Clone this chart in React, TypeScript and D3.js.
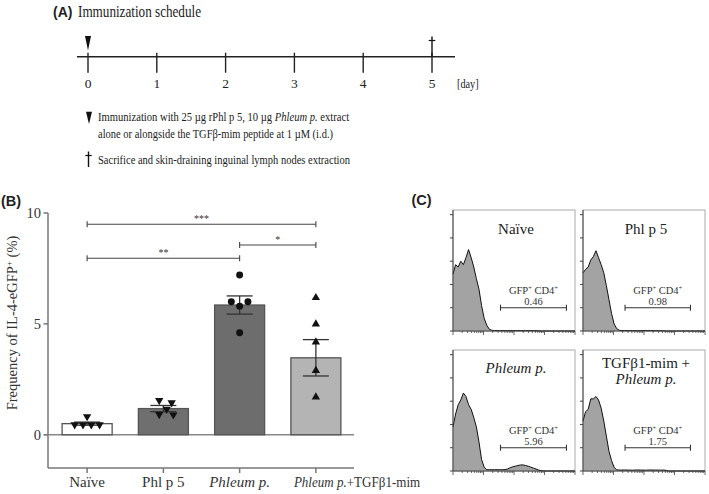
import React from "react";
import * as d3 from "d3";

// ---------- Panel A data ----------
const days = [0, 1, 2, 3, 4, 5];
const immunizationDay = 0;
const sacrificeDay = 5;

// ---------- Panel B data ----------
const groups = ["Naïve", "Phl p 5", "Phleum p.", "Phleum p.+TGFβ1-mim"];
const means = [0.5, 1.18, 5.85, 3.47];
const sems = [0.07, 0.14, 0.41, 0.82];
const groupPoints = [
  [0.82, 0.45, 0.45, 0.45, 0.45],
  [1.55, 1.45, 1.15, 0.92, 0.9],
  [7.2, 6.0, 6.0, 5.8, 4.6],
  [6.18, 4.99, 4.18, 2.89, 1.7],
];
const pointSlots = [
  [0, -1.5, -0.5, 0.5, 1.5],
  [-0.5, 1, 0.4, -0.5, 1.2],
  [0, -1, 1, 0, 0],
  [0, 0, 0, 0, 0],
];
const markerKinds = ["down", "down", "circle", "up"];
const barFills = ["#ffffff", "#6f6f6f", "#6d6d6d", "#b4b4b4"];
const yTicks = [0, 5, 10];
const sigFrom = [0, 2, 0];
const sigTo = [3, 3, 2];
const sigY = [9.49, 8.56, 7.96];
const sigLabels = ["***", "*", "**"];

// ---------- Panel C data (histogram counts, 48 log-fluorescence bins) ----------
const histNaive = [49, 57, 55, 60, 57, 63, 70, 63, 55, 45, 36, 22, 11, 5, 1.5, 0.6, 0.4, 0.4, 0.3, 0.4, 0.3, 0.4, 0.3, 0.3, 0.4, 0.3, 0.4, 0.3, 0.3, 0.3, 0.4, 0.3, 0.3, 0.2, 0, 0, 0, 0, 0, 0, 0, 0, 0, 0, 0, 0, 0, 0];
const histPhl = [50, 53, 55, 61, 64, 69, 63, 57, 50, 39, 27, 15, 6, 2, 0.6, 0.4, 0.4, 0.3, 0.4, 0.3, 0.4, 0.3, 0.3, 0.4, 0.5, 0.3, 0.4, 0.3, 0.3, 0.3, 0.3, 0.2, 0, 0, 0, 0, 0, 0, 0, 0, 0, 0, 0, 0, 0, 0, 0, 0];
const histPhleum = [38, 49, 57, 61, 67, 64, 57, 53, 46, 38, 25, 10, 3.3, 1.1, 1.1, 1.1, 1.1, 1.1, 1.1, 1.1, 1.2, 1.7, 2.8, 3.6, 4.1, 4.7, 5.2, 5.2, 4.7, 4.1, 3.3, 2.5, 1.7, 0.8, 0.3, 0, 0, 0, 0, 0, 0, 0, 0, 0, 0, 0, 0, 0];
const histTgf = [43, 51, 53, 62, 62, 64, 61, 54, 43, 30, 17, 9, 3, 1, 0.8, 0.8, 0.9, 0.8, 0.8, 0.7, 0.8, 0.9, 0.8, 0.8, 0.7, 0.8, 0.9, 0.8, 0.8, 0.8, 0.7, 0.8, 0.6, 0, 0, 0, 0, 0, 0, 0, 0, 0, 0, 0, 0, 0, 0, 0];
const histograms = [histNaive, histPhl, histPhleum, histTgf];
const gateValues = ["0.46", "0.98", "5.96", "1.75"];
const gateLo = [18.3, 16.2, 18.3, 16.2];
const gateHi = [43.7, 41.4, 43.7, 41.4];
const countTicks = [0, 20, 40, 60, 80, 100];

const SERIF = "'Liberation Serif', 'Times New Roman', serif";
const SANS = "'Liberation Sans', Arial, sans-serif";

export default function App() {
  const W = 709, H = 494;

  // Panel A
  const xDay = d3.scaleLinear().domain([0, 5]).range([88, 432]);
  const lineY = 56.7;

  // Panel B
  const y = d3.scaleLinear().domain([-1.5, 10]).range([468, 213]);
  const x = d3.scaleBand<string>().domain(groups).range([49, 354]).paddingInner(0.344).paddingOuter(0.172);
  const cx = (i: number) => (x(groups[i]) as number) + x.bandwidth() / 2;
  const slot = 8.3;
  const sym = (kind: string) => {
    if (kind === "circle") return d3.symbol(d3.symbolCircle, 38)() as string;
    return d3.symbol(d3.symbolTriangle, 30)() as string;
  };

  // Panel C
  const colX = [453, 583];
  const rowY = [210, 350];
  const cellW = 122, cellH = 121;

  return (
    <svg width={W} height={H} style={{ position: "absolute", left: 0, top: 0, background: "#fff" }} fontFamily={SERIF}>
      {/* ================= Panel A ================= */}
      <text x={53} y={16.5} fontFamily={SANS} fontWeight="bold" fontSize={14} fill="#222">(A)</text>
      <text x={78} y={16.5} fontSize={16.5} fill="#222" textLength={123} lengthAdjust="spacingAndGlyphs">Immunization schedule</text>
      <line x1={77} x2={455} y1={lineY} y2={lineY} stroke="#222" strokeWidth={1.6} />
      {days.map((d) => (
        <g key={d}>
          <line x1={xDay(d)} x2={xDay(d)} y1={lineY - 4} y2={lineY + 16} stroke="#222" strokeWidth={1.4} />
          <text x={xDay(d)} y={88} textAnchor="middle" fontSize={13.5} fill="#222">{d}</text>
        </g>
      ))}
      <text x={457} y={88} fontSize={13.5} fill="#222" textLength={21.6} lengthAdjust="spacingAndGlyphs">[day]</text>
      <path d={`M${xDay(immunizationDay) - 3},36 L${xDay(immunizationDay) + 3},36 L${xDay(immunizationDay)},50.5 Z`} fill="#111" />
      <line x1={xDay(sacrificeDay)} x2={xDay(sacrificeDay)} y1={36.5} y2={lineY} stroke="#111" strokeWidth={1.4} />
      <line x1={xDay(sacrificeDay) - 3.3} x2={xDay(sacrificeDay) + 3.3} y1={40.5} y2={40.5} stroke="#111" strokeWidth={1.2} />
      <path d="M86,111.7 L92,111.7 L89,124 Z" fill="#111" />
      <g transform="translate(98,120.5) scale(0.815,1)">
        <text x={0} y={0} fontSize={13} fill="#222">
          Immunization with 25 µg rPhl p 5, 10 µg <tspan fontStyle="italic">Phleum p.</tspan> extract
        </text>
      </g>
      <text x={98} y={138} fontSize={13} fill="#222" textLength={235} lengthAdjust="spacingAndGlyphs">
        alone or alongside the TGFβ-mim peptide at 1 µM (i.d.)
      </text>
      <line x1={88.5} x2={88.5} y1={151.5} y2={167} stroke="#111" strokeWidth={1.4} />
      <line x1={85.3} x2={91.7} y1={155.5} y2={155.5} stroke="#111" strokeWidth={1.2} />
      <text x={98} y={164} fontSize={13} fill="#222" textLength={252} lengthAdjust="spacingAndGlyphs">
        Sacrifice and skin-draining inguinal lymph nodes extraction
      </text>

      {/* ================= Panel B ================= */}
      <text x={1} y={206} fontFamily={SANS} fontWeight="bold" fontSize={14.5} fill="#222">(B)</text>
      <text transform={`translate(17,323) rotate(-90)`} textAnchor="middle" fontSize={14.5} fill="#333">
        <tspan>Frequency of IL-4-eGFP</tspan>
        <tspan dy={-5} fontSize={9}>+</tspan>
        <tspan dy={5}> (%)</tspan>
      </text>
      <line x1={48} x2={48} y1={y(10)} y2={y(-1.5)} stroke="#777" strokeWidth={1.5} />
      <line x1={48} x2={354} y1={y(-1.5)} y2={y(-1.5)} stroke="#777" strokeWidth={1.5} />
      <line x1={44} x2={354} y1={y(0)} y2={y(0)} stroke="#888" strokeWidth={1.5} />
      {yTicks.map((t) => (
        <g key={t}>
          <line x1={43.5} x2={48} y1={y(t)} y2={y(t)} stroke="#777" strokeWidth={1.5} />
          <text x={41} y={y(t) + 5} textAnchor="end" fontSize={14.5} fill="#333">{t}</text>
        </g>
      ))}
      {groups.map((g, i) => (
        <line key={g} x1={cx(i)} x2={cx(i)} y1={y(-1.5)} y2={y(-1.5) + 5} stroke="#777" strokeWidth={1.5} />
      ))}
      {groups.map((g, i) => (
        <rect key={g} x={x(g)} y={y(means[i])} width={x.bandwidth()} height={y(0) - y(means[i])} fill={barFills[i]} stroke="#555" strokeWidth={1.3} />
      ))}
      {groups.map((g, i) => (
        <g key={g} stroke="#333" strokeWidth={1.3}>
          <line x1={cx(i)} x2={cx(i)} y1={y(means[i] + sems[i])} y2={y(means[i] - sems[i])} />
          <line x1={cx(i) - 13} x2={cx(i) + 13} y1={y(means[i] + sems[i])} y2={y(means[i] + sems[i])} />
          <line x1={cx(i) - 13} x2={cx(i) + 13} y1={y(means[i] - sems[i])} y2={y(means[i] - sems[i])} />
        </g>
      ))}
      {groupPoints.map((pts, i) =>
        pts.map((v, j) => (
          <path
            key={`${i}-${j}`}
            d={sym(markerKinds[i])}
            transform={`translate(${cx(i) + pointSlots[i][j] * slot},${y(v)})${markerKinds[i] === "down" ? " rotate(180)" : ""}`}
            fill="#111"
          />
        ))
      )}
      <text x={cx(0)} y={487} textAnchor="middle" fontSize={15} fill="#333">{groups[0]}</text>
      <text x={cx(1)} y={487} textAnchor="middle" fontSize={15} fill="#333">{groups[1]}</text>
      <text x={cx(2)} y={487} textAnchor="middle" fontSize={15} fill="#333" fontStyle="italic">{groups[2]}</text>
      <g transform={`translate(${cx(3) - 22},487) scale(0.87,1)`}>
        <text x={0} y={0} fontSize={15} fill="#333">
          <tspan fontStyle="italic">Phleum p.</tspan>+TGFβ1-mim
        </text>
      </g>
      {sigLabels.map((lab, k) => {
        const x1 = cx(sigFrom[k]), x2 = cx(sigTo[k]), yy = y(sigY[k]);
        return (
          <g key={k}>
            <line x1={x1} x2={x2} y1={yy} y2={yy} stroke="#444" strokeWidth={1.1} />
            <line x1={x1} x2={x1} y1={yy - 3} y2={yy + 3} stroke="#444" strokeWidth={1.1} />
            <line x1={x2} x2={x2} y1={yy - 3} y2={yy + 3} stroke="#444" strokeWidth={1.1} />
            <text x={(x1 + x2) / 2} y={yy - 2} textAnchor="middle" fontSize={10} fill="#333">{lab}</text>
          </g>
        );
      })}

      {/* ================= Panel C ================= */}
      <text x={411.5} y={205} fontFamily={SANS} fontWeight="bold" fontSize={14.5} fill="#222">(C)</text>
      {histograms.map((counts, p) => {
        const col = p % 2, row = Math.floor(p / 2);
        const left = colX[col], top = rowY[row];
        const bottom = top + cellH, right = left + cellW;
        const hx = d3.scaleLinear().domain([0, counts.length - 1]).range([left, right]);
        const hy = d3.scaleLinear().domain([0, 104]).range([bottom, top]);
        const logX = d3.scaleLog().domain([1, 1e4]).range([left, right]);
        const area = d3.area<number>().x((_, i) => hx(i)).y0(bottom).y1((d) => hy(d));
        const line = d3.line<number>().x((_, i) => hx(i)).y((d) => hy(d));
        const gx1 = hx(gateLo[p]), gx2 = hx(gateHi[p]), gy = hy(20);
        const gc = (gx1 + gx2) / 2;
        const tc = (left + right) / 2 + 2;
        return (
          <g key={p}>
            <rect x={left} y={top} width={cellW} height={cellH} fill="#fff" stroke="#aaa" strokeWidth={1} />
            <path d={area(counts) as string} fill="#a3a3a3" />
            <path d={line(counts) as string} fill="none" stroke="#111" strokeWidth={1} />
            <line x1={left} x2={left} y1={top} y2={bottom} stroke="#444" strokeWidth={1} />
            <line x1={left} x2={right} y1={bottom} y2={bottom} stroke="#444" strokeWidth={1} />
            {countTicks.map((t) => (
              <line key={t} x1={left - 3} x2={left} y1={hy(t)} y2={hy(t)} stroke="#444" strokeWidth={1} />
            ))}
            {logX.ticks().map((t, k) => {
              const major = Math.abs(Math.log10(t) - Math.round(Math.log10(t))) < 1e-6;
              return <line key={k} x1={logX(t)} x2={logX(t)} y1={bottom} y2={bottom + (major ? 4 : 2)} stroke="#444" strokeWidth={0.8} />;
            })}
            <g stroke="#333" strokeWidth={1.1}>
              <line x1={gx1} x2={gx2} y1={gy} y2={gy} />
              <line x1={gx1} x2={gx1} y1={gy - 3} y2={gy + 3} />
              <line x1={gx2} x2={gx2} y1={gy - 3} y2={gy + 3} />
            </g>
            <text x={gc} y={gy - 14} textAnchor="middle" fontSize={10.5} fill="#333">
              <tspan>GFP</tspan>
              <tspan dy={-4} fontSize={6.5}>+</tspan>
              <tspan dy={4}> CD4</tspan>
              <tspan dy={-4} fontSize={6.5}>+</tspan>
            </text>
            <text x={gc} y={gy - 2.5} textAnchor="middle" fontSize={10.5} fill="#333">{gateValues[p]}</text>
            {p === 0 && <text x={tc} y={top + 24.3} textAnchor="middle" fontSize={15} fill="#222">Naïve</text>}
            {p === 1 && <text x={tc} y={top + 24.3} textAnchor="middle" fontSize={15} fill="#222">Phl p 5</text>}
            {p === 2 && <text x={tc} y={top + 22.7} textAnchor="middle" fontSize={15} fill="#222" fontStyle="italic">Phleum p.</text>}
            {p === 3 && (
              <>
                <text x={tc} y={top + 18.3} textAnchor="middle" fontSize={15} fill="#222">TGFβ1-mim +</text>
                <text x={tc} y={top + 34.3} textAnchor="middle" fontSize={15} fill="#222" fontStyle="italic">Phleum p.</text>
              </>
            )}
          </g>
        );
      })}
    </svg>
  );
}
